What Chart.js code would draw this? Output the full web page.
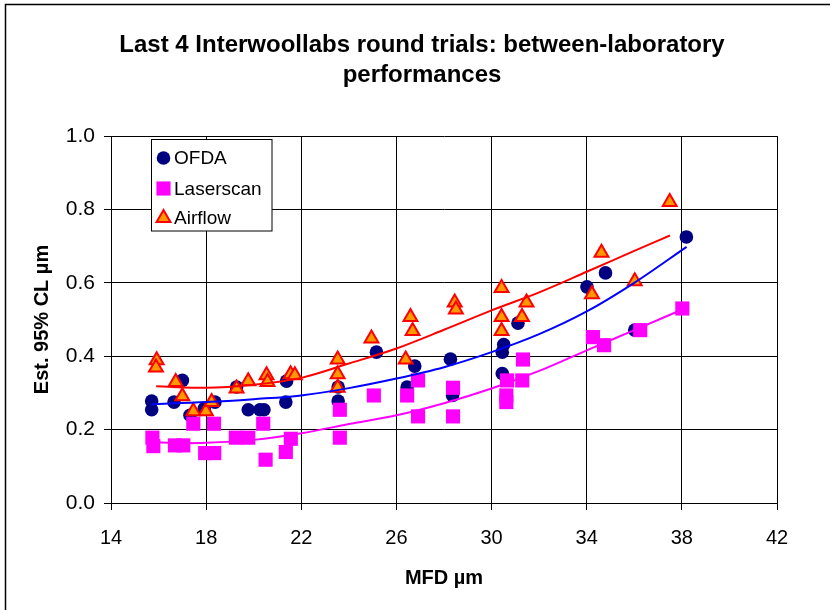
<!DOCTYPE html>
<html><head><meta charset="utf-8">
<script src="https://cdn.jsdelivr.net/npm/chart.js@4.4.1/dist/chart.umd.min.js"></script>
<style>html,body{margin:0;padding:0;background:#fff;}canvas{display:block;}</style>
</head><body>
<canvas id="c" width="830" height="610"></canvas>
<script>
const titleLines = ['Last 4 Interwoollabs round trials: between-laboratory', 'performances'];
const xTitle = 'MFD µm';
const yTitle = 'Est. 95% CL µm';
const xTicks = [14, 18, 22, 26, 30, 34, 38, 42];
const yTicks = [0.0, 0.2, 0.4, 0.6, 0.8, 1.0];
const seriesNames = ['OFDA', 'Laserscan', 'Airflow'];

const ofdaX = [15.71, 15.71, 16.65, 17.0, 17.32, 17.92, 18.37, 19.28, 19.77, 20.26, 20.43, 21.38, 21.35, 23.55, 23.55, 25.16, 26.77, 26.45, 28.27, 28.36, 30.51, 30.45, 30.45, 31.11, 34.01, 34.79, 36.02, 38.19];
const ofdaY = [0.278, 0.254, 0.275, 0.334, 0.239, 0.257, 0.275, 0.316, 0.254, 0.254, 0.254, 0.332, 0.275, 0.316, 0.278, 0.411, 0.373, 0.316, 0.392, 0.293, 0.432, 0.411, 0.353, 0.490, 0.589, 0.627, 0.471, 0.725];

const laserX = [15.74, 15.78, 16.69, 17.04, 17.46, 17.96, 18.34, 18.33, 19.25, 19.77, 20.40, 20.50, 21.35, 21.56, 23.62, 23.62, 25.05, 26.45, 26.91, 26.91, 28.38, 28.38, 30.65, 30.62, 30.62, 31.32, 31.29, 34.26, 34.73, 36.25, 38.02];
const laserY = [0.178, 0.155, 0.157, 0.157, 0.216, 0.136, 0.136, 0.216, 0.178, 0.178, 0.216, 0.118, 0.139, 0.175, 0.254, 0.178, 0.293, 0.293, 0.334, 0.236, 0.314, 0.236, 0.334, 0.293, 0.275, 0.391, 0.334, 0.452, 0.430, 0.471, 0.530];

const airX = [15.92, 15.89, 16.72, 17.0, 17.46, 17.99, 18.23, 19.28, 19.77, 20.54, 20.58, 21.55, 21.73, 23.53, 23.53, 23.53, 24.95, 26.59, 26.68, 26.39, 28.45, 28.50, 30.42, 30.42, 30.42, 31.47, 31.28, 34.62, 34.22, 36.02, 37.49];
const airY = [0.389, 0.369, 0.330, 0.291, 0.250, 0.250, 0.275, 0.312, 0.332, 0.348, 0.330, 0.351, 0.348, 0.391, 0.351, 0.314, 0.448, 0.507, 0.469, 0.391, 0.546, 0.527, 0.586, 0.507, 0.469, 0.546, 0.507, 0.682, 0.569, 0.604, 0.820];

const ofdaTrendX = [15.7, 18, 20, 22, 24, 26, 28, 30, 32, 34, 36, 38.2];
const ofdaTrendY = [0.269, 0.275, 0.283, 0.293, 0.313, 0.339, 0.370, 0.411, 0.460, 0.522, 0.600, 0.698];
const laserTrendX = [15.7, 17, 18, 20, 22, 24, 26, 28, 30, 32, 34, 36, 38];
const laserTrendY = [0.166, 0.163, 0.164, 0.172, 0.190, 0.215, 0.239, 0.272, 0.312, 0.360, 0.416, 0.471, 0.527];
const airTrendX = [15.9, 18, 20, 22, 24, 26, 28, 30, 32, 34, 36, 37.5];
const airTrendY = [0.318, 0.314, 0.322, 0.341, 0.380, 0.421, 0.472, 0.525, 0.574, 0.630, 0.687, 0.729];

const FONT = "'Liberation Sans', Arial, sans-serif";
const pts = (xs, ys) => xs.map((x, i) => ({x: x, y: ys[i]}));

const scatterSets = [
  {label: seriesNames[0], data: pts(ofdaX, ofdaY), pointStyle: 'circle', pointRadius: 6.8, backgroundColor: '#000080', borderColor: '#000080', borderWidth: 0, order: 3},
  {label: seriesNames[1], data: pts(laserX, laserY), pointStyle: 'rect', pointRadius: 10, backgroundColor: '#FF00FF', borderColor: '#FF00FF', borderWidth: 0, order: 2},
  {label: seriesNames[2], data: pts(airX, airY), pointStyle: 'triangle', pointRadius: 8, backgroundColor: '#FF9900', borderColor: '#FF0000', borderWidth: 2, order: 1}
];
const trendSet = (xs, ys, color) => ({type: 'line', label: '', data: pts(xs, ys), showLine: true, borderColor: color, borderWidth: 2, pointRadius: 0, fill: false, cubicInterpolationMode: 'monotone', order: 0});

const legendBox = {
  id: 'legendBox',
  afterDraw(chart) {
    const ctx = chart.ctx;
    ctx.save();
    ctx.fillStyle = '#fff';
    ctx.strokeStyle = '#000';
    ctx.lineWidth = 1;
    ctx.fillRect(151, 139.5, 121, 91.5);
    ctx.strokeRect(151.5, 139.5, 120.5, 91.5);
    const ys = [158, 188.5, 218];
    scatterSets.forEach((ds, i) => {
      ctx.fillStyle = ds.backgroundColor;
      ctx.strokeStyle = ds.borderColor;
      ctx.lineWidth = ds.borderWidth;
      Chart.helpers.drawPoint(ctx, {pointStyle: ds.pointStyle, radius: ds.pointRadius, borderWidth: ds.borderWidth, rotation: 0}, 163.5, ys[i]);
      ctx.fillStyle = '#000';
      ctx.font = '19px ' + FONT;
      ctx.textBaseline = 'middle';
      ctx.textAlign = 'left';
      ctx.fillText(ds.label, 174, ys[i] + 1);
    });
    ctx.restore();
  }
};
const frame = {
  id: 'frame',
  afterDraw(chart) {
    const ctx = chart.ctx;
    ctx.save();
    ctx.strokeStyle = '#000';
    ctx.lineWidth = 1.5;
    ctx.beginPath();
    ctx.moveTo(5.5, 610); ctx.lineTo(5.5, 4.5); ctx.lineTo(830, 4.5);
    ctx.stroke();
    ctx.restore();
  }
};

new Chart(document.getElementById('c'), {
  type: 'scatter',
  data: {
    datasets: [
      trendSet(ofdaTrendX, ofdaTrendY, '#0000FF'),
      trendSet(laserTrendX, laserTrendY, '#FF00FF'),
      trendSet(airTrendX, airTrendY, '#FF0000'),
      ...scatterSets
    ]
  },
  options: {
    responsive: false,
    animation: false,
    devicePixelRatio: 1,
    layout: {padding: {left: 14, right: 0, top: 0, bottom: 0}},
    plugins: {
      legend: {display: false},
      tooltip: {enabled: false},
      title: {display: true, text: titleLines, color: '#000', font: {family: FONT, size: 24, weight: 'bold', lineHeight: 1.25}, padding: {top: 30, bottom: 46}}
    },
    scales: {
      x: {
        type: 'linear', position: 'bottom', min: 14, max: 42,
        afterBuildTicks: s => { s.ticks = xTicks.map(v => ({value: v})); },
        ticks: {color: '#000', font: {family: FONT, size: 20}, padding: 16, maxRotation: 0, autoSkip: false},
        grid: {color: '#000', lineWidth: 1, tickLength: 7},
        border: {color: '#000', width: 1},
        title: {display: true, text: xTitle, color: '#000', font: {family: FONT, size: 20, weight: 'bold'}, padding: {top: 0, bottom: 20}},
        afterFit: s => { s.height = 107; }
      },
      y: {
        type: 'linear', position: 'left', min: 0, max: 1,
        afterBuildTicks: s => { s.ticks = yTicks.map(v => ({value: v})); },
        ticks: {color: '#000', font: {family: FONT, size: 21}, padding: 9, callback: v => Number(v).toFixed(1)},
        grid: {color: '#000', lineWidth: 1, tickLength: 7},
        border: {color: '#000', width: 1},
        title: {display: true, text: yTitle, color: '#000', font: {family: FONT, size: 20, weight: 'bold'}, padding: {top: 16, bottom: 0}},
        afterFit: s => { s.width = 97; }
      },
      yRight: {
        type: 'linear', position: 'right', min: 0, max: 1, display: true,
        grid: {display: false}, border: {display: false}, ticks: {display: false},
        afterFit: s => { s.width = 53; }
      }
    }
  },
  plugins: [legendBox, frame]
});
</script>
</body></html>
